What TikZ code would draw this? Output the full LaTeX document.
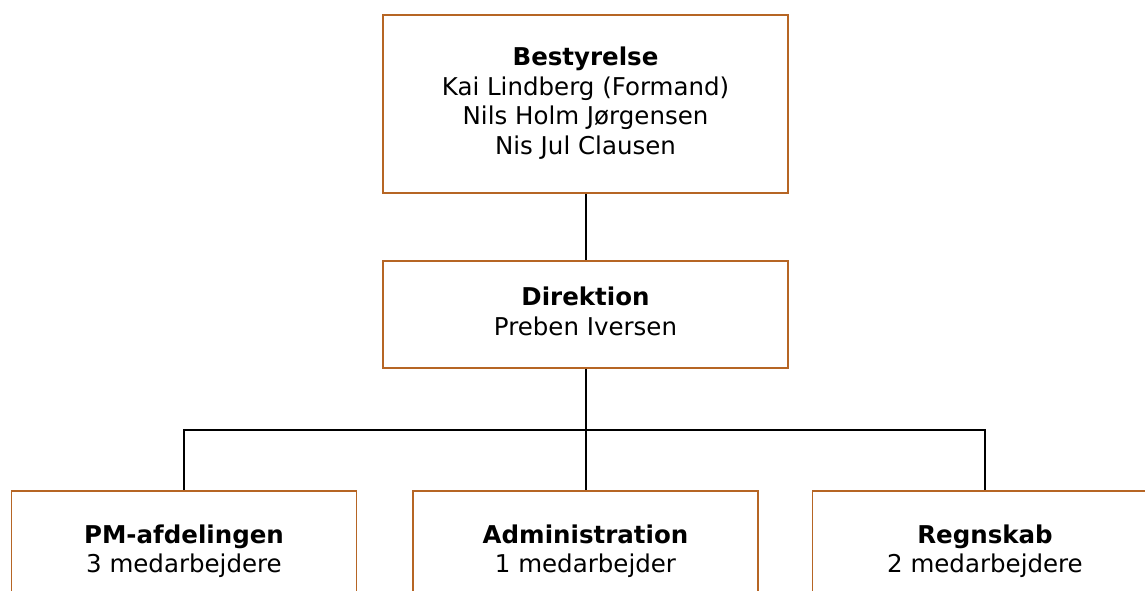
\documentclass[tikz,border=0pt]{standalone}
\usepackage{fontspec}
\setmainfont{DejaVu Sans}
\definecolor{boxline}{RGB}{182,101,36}
\newcommand{\unittext}[1]{\raisebox{-3pt}{\begin{tabular}{c}#1\end{tabular}}}

\tikzset{%
        every node/.style = {font = \fontsize{24.5}{29.7}\selectfont},
        unit/.style = {rectangle, draw = boxline, line width = 1.2pt, fill = white, inner sep = 0pt},
        board/.style = {unit, minimum width = 405, minimum height = 178},
        management/.style = {unit, minimum width = 405, minimum height = 107},
        department/.style = {unit, minimum width = 345, minimum height = 122},
        orgline/.style = {line width = 2pt, draw = black}
    }

\begin{document}
\begin{tikzpicture}[x = 1pt, y = -1pt]
				\useasboundingbox (0,0) rectangle (1145,590);
				\clip (0,0) rectangle (1145,590);

				\node[board]			(board)		at (585.5,104)		{\unittext{\textbf{Bestyrelse}\\Kai Lindberg (Formand)\\Nils Holm Jørgensen\\Nis Jul Clausen}};
				\node[management]		(direction)	at (585.5,314.5)	{\unittext{\textbf{Direktion}\\Preben Iversen}};
				\node[department]		(pm)		at (184,552)		{\unittext{\textbf{PM-afdelingen}\\3 medarbejdere}};
				\node[department]		(admin)		at (585.5,552)		{\unittext{\textbf{Administration}\\1 medarbejder}};
				\node[department]		(accounts)	at (985,552)		{\unittext{\textbf{Regnskab}\\2 medarbejdere}};

				\coordinate (bus) at (585.5,430);

				% lines between the units
				\draw[orgline] (board) -- (direction);
				\draw[orgline] (direction) -- (bus) -- (admin);
				\draw[orgline] (bus) -| (pm);
				\draw[orgline] (bus) -| (accounts);

\end{tikzpicture}
\end{document}
